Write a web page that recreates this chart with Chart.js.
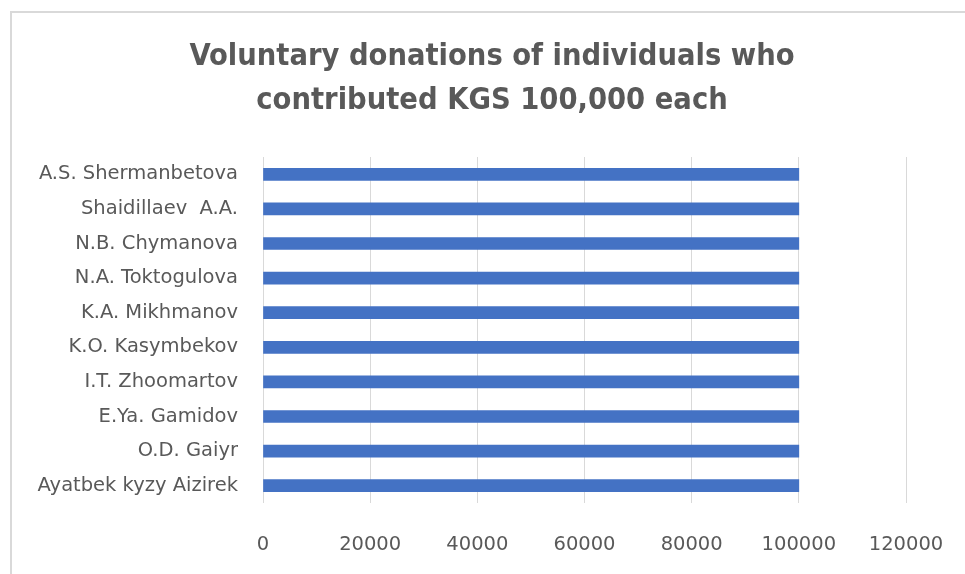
<!DOCTYPE html>
<html>
<head>
<meta charset="utf-8">
<script src="https://cdn.jsdelivr.net/npm/chart.js@4.4.1/dist/chart.umd.min.js"></script>
<style>
  html, body { margin: 0; padding: 0; background: #ffffff; }
  #wrap { position: relative; width: 965px; height: 574px; overflow: hidden; }
  #frame { position: absolute; left: 10px; top: 11px; width: 960px; height: 570px;
           border-left: 2px solid #d9d9d9; border-top: 2px solid #d9d9d9; }
  canvas { position: absolute; left: 0; top: 0; }
</style>
</head>
<body>
<div id="wrap">
  <div id="frame"></div>
  <canvas id="c" width="965" height="574"></canvas>
</div>
<script>
const titleLines = ["Voluntary donations of individuals who", "contributed KGS 100,000 each"];
const donors = [
  "A.S. Shermanbetova",
  "Shaidillaev  A.A.",
  "N.B. Chymanova",
  "N.A. Toktogulova",
  "K.A. Mikhmanov",
  "K.O. Kasymbekov",
  "I.T. Zhoomartov",
  "E.Ya. Gamidov",
  "O.D. Gaiyr",
  "Ayatbek kyzy Aizirek"
];
const amounts = [100000, 100000, 100000, 100000, 100000, 100000, 100000, 100000, 100000, 100000];
const xTicks = [0, 20000, 40000, 60000, 80000, 100000, 120000];

const textColor = '#595959';
const gridColor = '#d9d9d9';

const titlePlugin = {
  id: 'excelTitle',
  afterDraw(chart) {
    const ctx = chart.ctx;
    ctx.save();
    ctx.fillStyle = textColor;
    ctx.font = "bold 30.5px 'DejaVu Sans Condensed', 'DejaVu Sans', sans-serif";
    ctx.textAlign = 'center';
    ctx.textBaseline = 'middle';
    const cx = 492, y0 = 57, lh = 44;
    titleLines.forEach((t, i) => ctx.fillText(t, cx, y0 + i * lh));
    ctx.restore();
  }
};

new Chart(document.getElementById('c'), {
  type: 'bar',
  data: {
    labels: donors,
    datasets: [{
      data: amounts,
      backgroundColor: '#4472C4',
      borderWidth: 0,
      barThickness: 12
    }]
  },
  plugins: [titlePlugin],
  options: {
    indexAxis: 'y',
    responsive: false,
    animation: false,
    events: [],
    layout: { padding: { left: 20, right: 59, top: 157, bottom: 0 } },
    plugins: {
      legend: { display: false },
      tooltip: { enabled: false },
      title: { display: false }
    },
    scales: {
      x: {
        min: 0,
        max: 120000,
        afterBuildTicks: (axis) => { axis.ticks = xTicks.map(v => ({ value: v })); },
        grid: { color: gridColor, lineWidth: 1, drawTicks: false },
        border: { display: false },
        ticks: {
          color: textColor,
          padding: 30,
          callback: (v) => String(v),
          font: { family: "'DejaVu Sans', sans-serif", size: 19.5 }
        },
        afterFit: (axis) => { axis.height = 71; axis.paddingLeft = 0; axis.paddingRight = 0; }
      },
      y: {
        grid: { display: false, drawTicks: false },
        border: { display: false },
        ticks: {
          color: textColor,
          padding: 25,
          font: { family: "'DejaVu Sans', sans-serif", size: 19.5 }
        },
        afterFit: (axis) => { axis.width = 243; axis.paddingTop = 0; axis.paddingBottom = 0; }
      }
    }
  }
});
</script>
</body>
</html>
